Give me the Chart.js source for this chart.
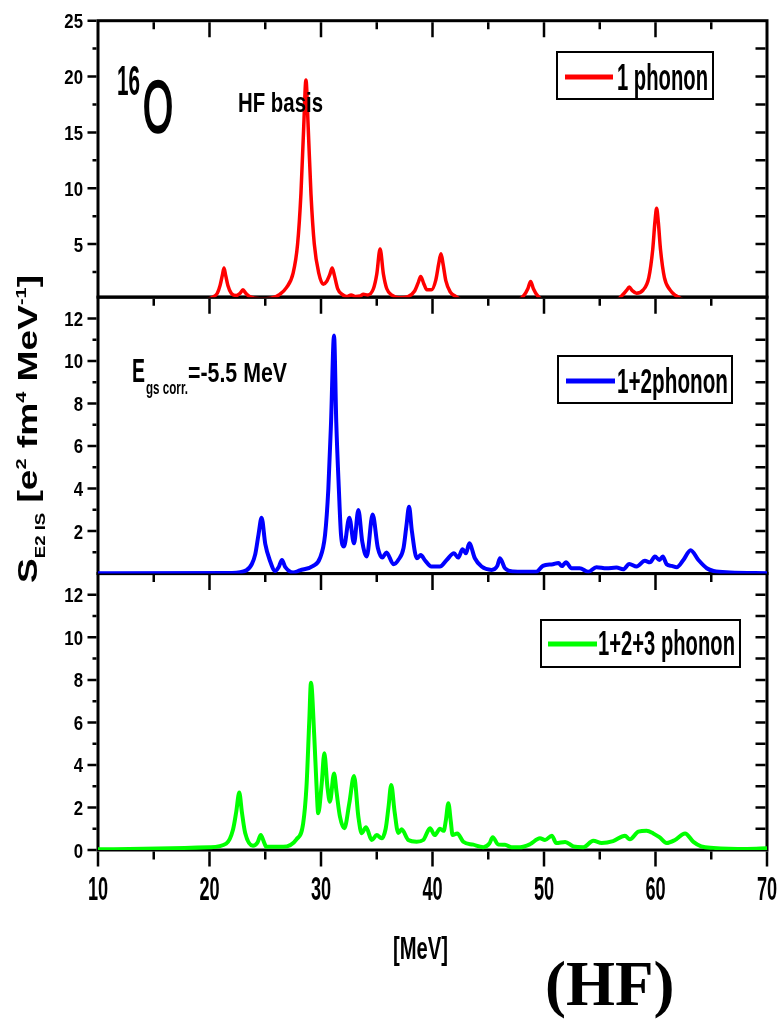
<!DOCTYPE html>
<html>
<head>
<meta charset="utf-8">
<script src="https://cdn.jsdelivr.net/npm/chart.js@4.4.1/dist/chart.umd.min.js"></script>
<style>
html,body{margin:0;padding:0;background:#fff;}
#wrap{position:relative;width:778px;height:1019px;}
canvas{display:block;}
</style>
</head>
<body>
<div id="wrap"><canvas id="c" width="778" height="1019" style="width:778px;height:1019px"></canvas></div>
<script>
// ---------- data ----------
const xTicks = [10, 20, 30, 40, 50, 60, 70];
const topTicks = [5, 10, 15, 20, 25];
const midTicks = [2, 4, 6, 8, 10, 12];
const botTicks = [0, 2, 4, 6, 8, 10, 12];
const seriesLabels = ['1 phonon', '1+2phonon', '1+2+3 phonon'];

const redX = [19.7, 20.3, 20.7, 20.95, 21.15, 21.3, 21.45, 21.65, 21.95, 22.4, 22.75, 23.0, 23.25, 23.6, 24.5, 25.5, 26.3, 26.9, 27.5, 27.9, 28.2, 28.45, 28.65, 28.85, 29.1, 29.4, 29.8, 30.2, 30.5, 30.8, 31.0, 31.2, 31.5, 31.9, 32.3, 32.7, 33.1, 33.5, 33.8, 34.2, 34.7, 35.0, 35.3, 35.6, 35.9, 36.4, 37.0, 37.8, 38.4, 38.7, 38.94, 39.2, 39.5, 39.9, 40.3, 40.55, 40.76, 40.95, 41.2, 41.6, 42.1, 42.6, 47.7, 48.2, 48.55, 48.8, 49.05, 49.4, 49.9, 56.5, 57.1, 57.4, 57.65, 57.9, 58.3, 58.9, 59.4, 59.75, 59.95, 60.1, 60.25, 60.45, 60.8, 61.3, 61.8, 62.5];
const redY = [0, 0.25, 0.6, 1.3, 2.2, 2.85, 2.2, 1.3, 0.6, 0.4, 0.6, 0.9, 0.6, 0.3, 0.1, 0.15, 0.5, 1.1, 2.4, 5.0, 9.5, 15.5, 19.7, 15.5, 9.5, 5.0, 2.4, 1.4, 1.65, 2.3, 2.85, 2.2, 1.0, 0.5, 0.3, 0.45, 0.3, 0.35, 0.5, 0.45, 1.0, 2.3, 4.55, 2.3, 1.0, 0.4, 0.2, 0.3, 0.8, 1.5, 2.1, 1.5, 0.9, 0.9, 1.8, 3.2, 4.13, 3.2, 1.7, 0.7, 0.3, 0, 0, 0.4, 1.0, 1.65, 1.0, 0.4, 0, 0, 0.5, 0.85, 1.15, 0.85, 0.6, 0.9, 2.0, 4.5, 7.0, 8.2, 7.0, 4.5, 2.0, 0.9, 0.4, 0];

const blueX = [10, 22.0, 23.3, 23.8, 24.1, 24.4, 24.67, 25.0, 25.4, 25.9, 26.2, 26.5, 26.8, 27.5, 28.1, 29.3, 29.9, 30.36, 30.66, 30.9, 31.17, 31.37, 31.6, 31.8, 32.06, 32.54, 32.96, 33.35, 33.7, 34.1, 34.63, 35.1, 35.5, 35.87, 36.5, 36.93, 37.4, 37.65, 37.9, 38.15, 38.6, 38.95, 39.3, 39.9, 40.67, 41.27, 41.93, 42.3, 42.7, 43.0, 43.3, 43.8, 44.4, 45.3, 45.8, 46.05, 46.5, 47.25, 49.3, 49.9, 50.8, 51.3, 51.6, 51.97, 52.47, 53.2, 53.97, 54.7, 55.6, 56.5, 57.1, 57.65, 58.3, 59.05, 59.5, 59.95, 60.35, 60.65, 61.0, 61.45, 61.9, 62.5, 63.15, 63.85, 64.6, 65.2, 66.7, 70];
const blueY = [0.02, 0.03, 0.15, 0.45, 0.9, 1.85, 2.63, 1.4, 0.64, 0.12, 0.3, 0.64, 0.3, 0.05, 0.15, 0.36, 0.72, 1.8, 4.0, 7.1, 11.2, 7.1, 4.0, 1.8, 1.27, 2.63, 1.42, 2.99, 1.5, 0.8, 2.78, 1.2, 0.75, 0.99, 0.44, 0.64, 1.2, 2.2, 3.14, 2.0, 0.72, 0.87, 0.64, 0.33, 0.33, 0.64, 0.95, 0.75, 1.14, 0.95, 1.42, 0.72, 0.33, 0.17, 0.35, 0.72, 0.25, 0.1, 0.08, 0.36, 0.44, 0.5, 0.35, 0.53, 0.25, 0.25, 0.08, 0.3, 0.25, 0.28, 0.2, 0.45, 0.33, 0.6, 0.53, 0.8, 0.64, 0.8, 0.44, 0.36, 0.3, 0.64, 1.1, 0.64, 0.25, 0.12, 0.05, 0.02];

const greenX = [10, 20.0, 21.5, 22.1, 22.4, 22.67, 22.9, 23.2, 23.9, 24.3, 24.6, 24.9, 25.1, 26.6, 27.8, 28.4, 28.7, 28.95, 29.1, 29.4, 29.6, 29.75, 30.06, 30.3, 30.57, 30.8, 31.17, 31.4, 31.7, 32.09, 32.54, 32.96, 33.35, 33.65, 34.04, 34.55, 35.0, 35.44, 35.8, 36.05, 36.3, 36.6, 36.93, 37.23, 37.83, 38.58, 39.17, 39.78, 40.2, 40.67, 41.0, 41.2, 41.42, 41.65, 41.8, 42.22, 42.76, 43.66, 44.56, 45.1, 45.4, 45.9, 46.5, 47.1, 47.85, 48.74, 49.64, 50.09, 50.7, 51.1, 51.9, 52.63, 53.53, 54.42, 55.17, 56.2, 57.26, 57.7, 58.46, 59.2, 59.8, 60.35, 61.0, 61.75, 62.65, 63.4, 64.1, 65.2, 68.2, 70];
const greenY = [0.03, 0.13, 0.3, 0.94, 1.8, 2.7, 1.8, 0.8, 0.2, 0.35, 0.7, 0.35, 0.15, 0.15, 0.5, 1.25, 3.0, 6.1, 7.87, 5.3, 3.0, 1.73, 3.1, 4.55, 3.0, 2.27, 3.6, 2.7, 1.57, 1.02, 2.2, 3.48, 1.57, 0.79, 1.07, 0.47, 0.7, 0.55, 1.0, 2.0, 3.06, 1.8, 0.8, 0.97, 0.47, 0.39, 0.47, 1.02, 0.7, 1.0, 0.9, 1.4, 2.2, 1.3, 0.7, 0.78, 0.39, 0.25, 0.13, 0.3, 0.6, 0.26, 0.25, 0.13, 0.13, 0.27, 0.55, 0.47, 0.67, 0.33, 0.38, 0.17, 0.13, 0.43, 0.33, 0.42, 0.67, 0.5, 0.86, 0.9, 0.78, 0.6, 0.33, 0.47, 0.78, 0.38, 0.17, 0.1, 0.05, 0.08];

// ---------- styles ----------
const SANS = '"Liberation Sans", Arial, sans-serif';
const SERIF = '"Liberation Serif", "Times New Roman", serif';
const COLORS = ['#ff0000', '#0000ff', '#00ff00'];

const PANELS = [
  {id: 'yTop', ticks: topTicks, minor: 2.5, color: COLORS[0], label: seriesLabels[0],
   box: [557, 52, 156, 47], line: [565, 613, 77], text: [617, 91, 90, 37]},
  {id: 'yMid', ticks: midTicks, minor: 1, color: COLORS[1], label: seriesLabels[1],
   box: [558, 356, 174, 47], line: [566, 615, 381], text: [617, 111, 393, 35]},
  {id: 'yBot', ticks: botTicks, minor: 1, color: COLORS[2], label: seriesLabels[2],
   box: [541, 620, 199, 47], line: [548, 597, 644], text: [598, 137, 655, 35]}
];

function pts(xs, ys) { return xs.map((x, i) => ({x: x, y: ys[i]})); }

function fitText(ctx, str, font, x, baseline, width) {
  ctx.save();
  ctx.font = font;
  ctx.textBaseline = 'alphabetic';
  ctx.textAlign = 'left';
  const w = ctx.measureText(str).width;
  ctx.translate(x, baseline);
  ctx.scale(width / w, 1);
  ctx.fillText(str, 0, 0);
  ctx.restore();
}

function squeezeText(ctx, str, font, x, baseline, sx, align) {
  ctx.save();
  ctx.font = font;
  ctx.textBaseline = 'alphabetic';
  ctx.textAlign = align;
  ctx.translate(x, baseline);
  ctx.scale(sx, 1);
  ctx.fillText(str, 0, 0);
  ctx.restore();
}

const framePlugin = {
  id: 'frame',
  beforeDatasetsDraw(chart) {
    const ctx = chart.ctx, xs = chart.scales.x;
    const L = xs.left, R = xs.right;
    ctx.save();
    ctx.strokeStyle = '#000';
    ctx.lineCap = 'butt';
    PANELS.forEach(p => {
      const s = chart.scales[p.id];
      const T = s.top, B = s.bottom;
      ctx.lineWidth = 3;
      ctx.strokeRect(L, T, R - L, B - T);
      ctx.lineWidth = 2.5;
      ctx.beginPath();
      const k0 = Math.ceil((s.min - 1e-9) / p.minor), k1 = Math.floor((s.max + 1e-9) / p.minor);
      for (let k = k0; k <= k1; k++) {
        const v = +(k * p.minor).toFixed(4);
        const y = s.getPixelForValue(v);
        const major = p.ticks.some(t => Math.abs(t - v) < 1e-6);
        const edge = Math.abs(y - T) < 2 || Math.abs(y - B) < 2;
        if (edge && !major) continue;
        const lenL = major ? 9 : 4;
        ctx.moveTo(L - 1.5, y); ctx.lineTo(L - 1.5 - lenL, y);
        if (!edge) { ctx.moveTo(R - 1.5, y); ctx.lineTo(R - 11.5, y); }
      }
      for (let v = xTicks[0] + 5; v < xTicks[xTicks.length - 1]; v += 5) {
        const x = xs.getPixelForValue(v);
        const major = xTicks.includes(v);
        ctx.moveTo(x, T + 1.5); ctx.lineTo(x, T + 1.5 + (major ? 15 : 7));
      }
      ctx.stroke();
    });
    const Bb = chart.scales.yBot.bottom;
    ctx.lineWidth = 2.5;
    ctx.beginPath();
    for (let v = xTicks[0]; v <= xTicks[xTicks.length - 1]; v += 5) {
      const x = xs.getPixelForValue(v);
      const major = xTicks.includes(v);
      ctx.moveTo(x, Bb + 1.5); ctx.lineTo(x, Bb + 1.5 + (major ? 15 : 8));
    }
    ctx.stroke();
    ctx.restore();
  }
};

const decorPlugin = {
  id: 'decor',
  afterDraw(chart) {
    const ctx = chart.ctx;
    ctx.save();
    ctx.fillStyle = '#000';
    // tick labels from the chart's own scales
    const xs = chart.scales.x;
    xs.ticks.forEach(t => {
      squeezeText(ctx, String(t.value), 'bold 33px ' + SANS, xs.getPixelForValue(t.value), 900, 0.55, 'center');
    });
    PANELS.forEach(p => {
      const s = chart.scales[p.id];
      s.ticks.forEach(t => {
        squeezeText(ctx, String(t.value), 'bold 21px ' + SANS, 83, s.getPixelForValue(t.value) + 7.5, 0.8, 'right');
      });
    });
    // legends
    PANELS.forEach(p => {
      ctx.lineWidth = 2;
      ctx.strokeStyle = '#000';
      ctx.strokeRect(p.box[0], p.box[1], p.box[2], p.box[3]);
      ctx.strokeStyle = p.color;
      ctx.lineWidth = 5;
      ctx.beginPath();
      ctx.moveTo(p.line[0], p.line[2]); ctx.lineTo(p.line[1], p.line[2]);
      ctx.stroke();
      fitText(ctx, p.label, 'bold ' + p.text[3] + 'px ' + SANS, p.text[0], p.text[2], p.text[1]);
    });
    // annotations
    fitText(ctx, '16', 'bold 42px ' + SANS, 117, 95, 23);
    ctx.save();
    ctx.font = 'normal 72px ' + SANS;
    const ow = ctx.measureText('O').width;
    ctx.translate(143, 132);
    ctx.scale(30 / ow, 1);
    ctx.fillText('O', 0, 0);
    ctx.lineWidth = 2.5;
    ctx.strokeStyle = '#000';
    ctx.strokeText('O', 0, 0);
    ctx.restore();
    fitText(ctx, 'HF basis', 'bold 27px ' + SANS, 238, 112, 85);
    fitText(ctx, 'E', 'bold 33px ' + SANS, 132, 382, 13);
    fitText(ctx, 'gs corr.', 'bold 18px ' + SANS, 146, 394, 42);
    fitText(ctx, '=-5.5 MeV', 'bold 28px ' + SANS, 188, 382, 99);
    // x title
    fitText(ctx, '[MeV]', 'bold 32px ' + SANS, 393, 959, 55);
    ctx.font = 'bold 63px ' + SERIF;
    ctx.textBaseline = 'alphabetic';
    ctx.textAlign = 'left';
    ctx.fillText('(HF)', 545, 1005);
    // y title (rotated)
    const parts = [
      {t: 'S', s: 28, dv: 0},
      {t: 'E2 IS', s: 14, dv: 8},
      {t: ' [e', s: 28, dv: 0},
      {t: '2', s: 15, dv: -11},
      {t: ' fm', s: 28, dv: 0},
      {t: '4', s: 15, dv: -11},
      {t: ' MeV', s: 28, dv: 0},
      {t: '-1', s: 15, dv: -11},
      {t: ']', s: 28, dv: 0}
    ];
    let total = 0;
    parts.forEach(q => { ctx.font = 'bold ' + q.s + 'px ' + SANS; q.w = ctx.measureText(q.t).width; total += q.w; });
    ctx.translate(37, 583);
    ctx.rotate(-Math.PI / 2);
    ctx.scale(308 / total, 1);
    let u = 0;
    parts.forEach(q => {
      ctx.font = 'bold ' + q.s + 'px ' + SANS;
      ctx.fillText(q.t, u, q.dv);
      u += q.w;
    });
    ctx.restore();
  }
};

function yAxis(min, max, ticksArr, weight) {
  return {
    type: 'linear', position: 'left', stack: 'panels', stackWeight: 1, weight: weight,
    min: min, max: max,
    afterBuildTicks: s => { s.ticks = ticksArr.map(v => ({value: v})); },
    afterFit: s => { s.width = 98; s.paddingTop = 0; s.paddingBottom = 0; s.paddingLeft = 0; s.paddingRight = 0; },
    ticks: {display: false},
    grid: {display: false, drawTicks: false},
    border: {display: false}
  };
}

new Chart(document.getElementById('c'), {
  type: 'line',
  data: {
    datasets: [
      {label: seriesLabels[0], data: pts(redX, redY), yAxisID: 'yTop', borderColor: COLORS[0], borderWidth: 3.5, clip: 0},
      {label: seriesLabels[1], data: pts(blueX, blueY), yAxisID: 'yMid', borderColor: COLORS[1], borderWidth: 4},
      {label: seriesLabels[2], data: pts(greenX, greenY), yAxisID: 'yBot', borderColor: COLORS[2], borderWidth: 4}
    ]
  },
  options: {
    responsive: false,
    animation: false,
    devicePixelRatio: 1,
    layout: {padding: {left: 0, right: 11, top: 20.7, bottom: 119}},
    plugins: {legend: {display: false}, tooltip: {enabled: false}, title: {display: false}},
    elements: {point: {radius: 0}, line: {cubicInterpolationMode: 'monotone', fill: false}},
    scales: {
      x: {
        type: 'linear', position: 'bottom', min: 10, max: 70,
        afterBuildTicks: s => { s.ticks = xTicks.map(v => ({value: v})); },
        afterFit: s => { s.height = 50; s.paddingLeft = 0; s.paddingRight = 0; s.paddingTop = 0; s.paddingBottom = 0; },
        ticks: {display: false},
        grid: {display: false, drawTicks: false},
        border: {display: false}
      },
      yTop: yAxis(0.25, 25, topTicks, 2),
      yMid: yAxis(0, 13, midTicks, 1),
      yBot: yAxis(0, 13, botTicks, 0)
    }
  },
  plugins: [framePlugin, decorPlugin]
});
</script>
</body>
</html>
